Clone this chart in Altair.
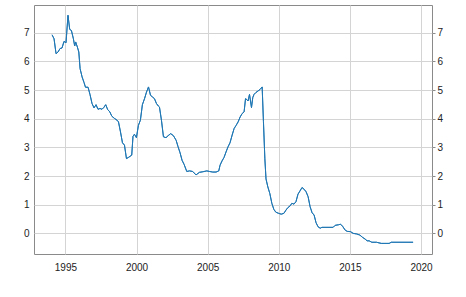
import altair as alt
import pandas as pd

years = [
    1994.06, 1994.20, 1994.34, 1994.48, 1994.62, 1994.76, 1994.90, 1995.04, 1995.18, 1995.30,
    1995.42, 1995.56, 1995.65, 1995.72, 1995.84, 1995.94, 1996.03, 1996.17, 1996.31, 1996.41,
    1996.59, 1996.73, 1996.87, 1997.01, 1997.15, 1997.29, 1997.43, 1997.57, 1997.69, 1997.83,
    1997.97, 1998.12, 1998.26, 1998.45, 1998.63, 1998.73, 1998.87, 1999.01, 1999.15, 1999.29,
    1999.43, 1999.66, 1999.75, 1999.85, 1999.99, 2000.13, 2000.27, 2000.41, 2000.56, 2000.70,
    2000.84, 2000.98, 2001.12, 2001.26, 2001.40, 2001.54, 2001.61, 2001.75, 2001.89, 2002.07,
    2002.22, 2002.40, 2002.59, 2002.78, 2002.92, 2003.06, 2003.20, 2003.34, 2003.53, 2003.72,
    2003.95, 2004.18, 2004.42, 2004.66, 2004.94, 2005.13, 2005.36, 2005.59, 2005.78, 2005.87,
    2006.01, 2006.15, 2006.29, 2006.43, 2006.57, 2006.72, 2006.86, 2007.00, 2007.14, 2007.28,
    2007.42, 2007.56, 2007.66, 2007.75, 2007.84, 2007.94, 2008.08, 2008.17, 2008.26, 2008.40,
    2008.54, 2008.68, 2008.83, 2008.92, 2009.02, 2009.10, 2009.23, 2009.37, 2009.51, 2009.65,
    2009.79, 2009.98, 2010.17, 2010.36, 2010.50, 2010.64, 2010.78, 2010.92, 2011.07, 2011.21,
    2011.35, 2011.49, 2011.63, 2011.78, 2011.92, 2012.06, 2012.20, 2012.34, 2012.48, 2012.62,
    2012.76, 2012.91, 2013.03, 2013.82, 2013.96, 2014.20, 2014.34, 2014.48, 2014.67, 2014.81,
    2015.04, 2015.23, 2015.47, 2015.70, 2015.89, 2016.07, 2016.21, 2016.35, 2016.54, 2016.87,
    2017.20, 2017.76, 2017.90, 2019.44,
]
values = [
    6.93, 6.79, 6.27, 6.33, 6.45, 6.47, 6.70, 6.65, 7.61, 7.12,
    7.08, 6.79, 6.54, 6.68, 6.50, 6.33, 5.75, 5.46, 5.26, 5.10,
    5.10, 4.84, 4.53, 4.38, 4.49, 4.33, 4.36, 4.33, 4.39, 4.49,
    4.32, 4.24, 4.09, 4.01, 3.95, 3.89, 3.54, 3.16, 3.08, 2.61,
    2.65, 2.73, 3.39, 3.46, 3.34, 3.77, 3.95, 4.49, 4.70, 4.93,
    5.11, 4.82, 4.76, 4.70, 4.53, 4.44, 4.41, 3.95, 3.37, 3.34,
    3.41, 3.48, 3.41, 3.25, 3.02, 2.81, 2.55, 2.41, 2.16, 2.18,
    2.16, 2.04, 2.13, 2.15, 2.18, 2.16, 2.14, 2.14, 2.18, 2.38,
    2.53, 2.65, 2.84, 3.02, 3.16, 3.43, 3.66, 3.77, 3.89, 4.06,
    4.18, 4.24, 4.70, 4.67, 4.62, 4.85, 4.39, 4.74, 4.85, 4.92,
    4.97, 5.02, 5.11, 3.90, 2.60, 1.90, 1.62, 1.39, 1.05, 0.84,
    0.74, 0.70, 0.67, 0.70, 0.81, 0.90, 0.95, 1.05, 1.02, 1.11,
    1.37, 1.48, 1.60, 1.54, 1.45, 1.28, 0.93, 0.72, 0.64, 0.37,
    0.23, 0.18, 0.21, 0.21, 0.28, 0.30, 0.32, 0.25, 0.11, 0.07,
    0.06, 0.00, -0.02, -0.06, -0.14, -0.20, -0.26, -0.26, -0.31, -0.31,
    -0.35, -0.35, -0.31, -0.31,
]
x_ticks = [1995, 2000, 2005, 2010, 2015, 2020]
y_ticks = [0, 1, 2, 3, 4, 5, 6, 7]

df = pd.DataFrame({"year": years, "value": values})

FONT = "Liberation Sans"
GRID = "#d4d4d4"
FRAME = "#8a8a8a"

x_enc = alt.X(
    "year:Q",
    scale=alt.Scale(domain=[1992.79, 2020.77], nice=False, zero=False),
    axis=alt.Axis(
        values=x_ticks, format="d", title=None, grid=True, gridColor=GRID,
        domain=False, ticks=False, tickSize=0, labelPadding=8,
        labelFont=FONT, labelFontSize=10, labelColor="#222222",
    ),
)
y_scale = alt.Scale(domain=[-0.72, 7.97], nice=False, zero=False)

left = alt.Chart(df).mark_line(color="#1f77b4", strokeWidth=1).encode(
    x=x_enc,
    y=alt.Y(
        "value:Q", scale=y_scale,
        axis=alt.Axis(
            values=y_ticks, title=None, grid=True, gridColor=GRID, orient="left",
            domain=False, ticks=False, tickSize=0, labelPadding=5,
            labelFont=FONT, labelFontSize=10, labelColor="#222222",
        ),
    ),
)
right = alt.Chart(df).mark_line(color="#1f77b4", strokeWidth=1).encode(
    x=x_enc,
    y=alt.Y(
        "value:Q", scale=y_scale,
        axis=alt.Axis(
            values=y_ticks, title=None, grid=False, orient="right",
            domain=False, ticks=True, tickSize=3, tickColor=FRAME, labelPadding=2,
            labelFont=FONT, labelFontSize=10, labelColor="#222222",
        ),
    ),
)

chart = (
    alt.layer(left, right)
    .resolve_scale(y="independent")
    .properties(
        width=398, height=249,
        autosize=alt.AutoSizeParams(type="none"),
        padding={"left": 34, "top": 5, "right": 34, "bottom": 43},
        background="white",
    )
    .configure_view(stroke=FRAME, strokeWidth=1)
)

chart.save("out.html", embed_options={"renderer": "svg", "actions": False})
